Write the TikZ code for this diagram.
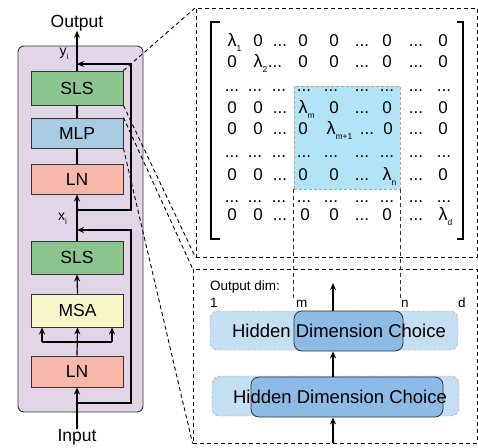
\documentclass[tikz,border=0pt]{standalone}
\usepackage{fontspec}
\setmainfont{Liberation Sans}
\usetikzlibrary{arrows.meta,calc}

\definecolor{panelfill}{HTML}{E1D5E7}
\definecolor{slsfill}{HTML}{8CC590}
\definecolor{mlpfill}{HTML}{A8CBE3}
\definecolor{lnfill}{HTML}{F7B8AB}
\definecolor{msafill}{HTML}{F6F6C9}
\definecolor{selfill}{HTML}{B2E4F8}
\definecolor{lightfill}{HTML}{C4DEF2}
\definecolor{darkfill}{HTML}{8CBCE6}
\definecolor{edge}{HTML}{333333}

% lambda with a lowered subscript that does not widen the entry
\newcommand\lam[1]{{\fontsize{18}{18}\selectfont λ}\rlap{\raisebox{-5pt}{\fontsize{8.5}{8.5}\selectfont #1}}}
\newcommand\D{...}

\begin{document}
\begin{tikzpicture}[x=1pt,y=-1pt,
  lbl/.style={font=\fontsize{17.5}{20}\selectfont, inner sep=0pt},
  blk/.style={draw=edge, line width=0.9pt, minimum width=92pt, inner sep=0pt,
              font=\fontsize{17.5}{20}\selectfont},
  wire/.style={line width=1.2pt},
  arr/.style={wire, -{Stealth[length=7pt,width=6pt]}},
  dbox/.style={draw, dash pattern=on 4pt off 3pt, line width=0.9pt, inner sep=0pt},
  link/.style={dash pattern=on 4pt off 3pt, line width=0.9pt},
  ent/.style={font=\fontsize{17}{18}\selectfont, inner sep=0pt, anchor=base},
  small/.style={font=\fontsize{13.5}{15}\selectfont, inner sep=0pt, anchor=base west},
  light/.style={fill=lightfill, draw=gray!80, dash pattern=on 3pt off 2pt,
                rounded corners=8pt, inner sep=0pt},
  dark/.style={fill=darkfill, draw=edge, line width=0.8pt, rounded corners=8pt, inner sep=0pt},
  hdctext/.style={font=\fontsize{18.5}{20}\selectfont, inner sep=0pt},
]
\useasboundingbox (0,0) rectangle (478,447);

% ---------- transformer block ----------
\node[draw=edge, fill=panelfill, rounded corners=6pt, line width=0.9pt,
      minimum width=125pt, minimum height=366pt, inner sep=0pt] (panel) at (80.5,229) {};

\node[blk, fill=slsfill, minimum height=34pt] (sls2) at (77,88) {SLS};
\node[blk, fill=mlpfill, minimum height=30pt] (mlp) at (77,133) {MLP};
\node[blk, fill=lnfill, minimum height=30pt] (ln2) at (77,179) {LN};
\node[blk, fill=slsfill, minimum height=33pt] (sls1) at (77,257.5) {SLS};
\node[blk, fill=msafill, minimum height=33pt] (msa) at (77.5,310.5) {MSA};
\node[blk, fill=lnfill, minimum height=31pt] (ln1) at (77,371.5) {LN};

\node[lbl, anchor=base] (out) at (77,27) {Output};
\node[lbl, anchor=base] (inp) at (77,441) {Input};
\node[anchor=base west, inner sep=0pt, font=\fontsize{14}{16}\selectfont] (yi) at (59.5,55)
  {y\rlap{\raisebox{-4pt}{\fontsize{8}{8}\selectfont i}}};
\node[anchor=base west, inner sep=0pt, font=\fontsize{14}{16}\selectfont] (xi) at (58,220)
  {x\rlap{\raisebox{-4pt}{\fontsize{8}{8}\selectfont i}}};

% main path
\draw[arr] (inp.north) -- (ln1.south);
\draw[arr] (ln1.north) -- (msa.south);
\coordinate (fl) at (42,342);
\coordinate (fr) at (112,342);
\draw[wire] (fl) -- (fr);
\draw[arr] (fl) -- (fl |- msa.south);
\draw[arr] (fr) -- (fr |- msa.south);
\draw[arr] (msa.north) -- (sls1.south);
\draw[arr] (sls1.north) -- (ln2.south);
\draw[wire] (ln2.north) -- (mlp.south);
\draw[wire] (mlp.north) -- (sls2.south);
\draw[arr] (sls2.north) -- (out.south);

% residual connections
\coordinate (ra) at (77,403);
\coordinate (rb) at (131,230);
\coordinate (rc) at (77,230);
\draw[arr] (ra) -| (rb) -- (rc);
\coordinate (sa) at (77,210);
\coordinate (sb) at (131,64);
\coordinate (sc) at (77,64);
\draw[arr] (sa) -| (sb) -- (sc);

% ---------- detail panels ----------
\node[dbox, minimum width=281pt, minimum height=249pt] (mat) at (336.5,132.5) {};
\node[dbox, minimum width=284pt, minimum height=174pt] (hdc) at (335,356) {};

\draw[link] (sls2.north east) -- (mat.north west);
\draw[link] (sls2.south east) -- (mat.south west);
\draw[link] (mlp.north east) -- (hdc.north west);
\draw[link] (mlp.south east) -- (hdc.south west);

% selected block of the diagonal matrix
\node[fill=selfill, draw=gray!70, dash pattern=on 3pt off 2pt, line width=0.8pt,
      minimum width=106pt, minimum height=103pt, inner sep=0pt] (sel) at (347,137.5) {};

% brackets
\draw[line width=2.8pt] (220,22) -- (211,22) -- (211,239) -- (220,239);
\draw[line width=2.8pt] (457,22) -- (463,22) -- (463,239) -- (457,239);

% matrix entries
\foreach \cx/\t [count=\c] in {232/\lam{1},258/0,280/\D,303/0,334/0,362/\D,387/0,416/\D,443/0}
  \node[ent] (ea-\c) at (\cx,46) {\t};
\foreach \cx/\t [count=\c] in {232/0,258/\lam{2},275/\D,303/0,334/0,362/\D,387/0,416/\D,443/0}
  \node[ent] (eb-\c) at (\cx,67) {\t};
\foreach \cx [count=\c] in {232,255,279,304,331,362,387,416,444}
  \node[ent] (ec-\c) at (\cx,91) {\D};
\foreach \cx/\t [count=\c] in {232/0,258/0,280/\D,303/\lam{m},334/0,362/\D,387/0,416/\D,443/0}
  \node[ent] (ed-\c) at (\cx,113) {\t};
\foreach \cx/\t [count=\c] in {232/0,258/0,280/\D,303/0,331/\lam{m+1},367/\D,388/0,416/\D,443/0}
  \node[ent] (ee-\c) at (\cx,134) {\t};
\foreach \cx [count=\c] in {232,255,279,304,331,362,387,416,444}
  \node[ent] (ef-\c) at (\cx,157) {\D};
\foreach \cx/\t [count=\c] in {232/0,258/0,280/\D,303/0,334/0,362/\D,387/\lam{n},416/\D,443/0}
  \node[ent] (eg-\c) at (\cx,180) {\t};
\foreach \cx [count=\c] in {232,255,279,304,331,362,387,416,444}
  \node[ent] (eh-\c) at (\cx,202) {\D};
\foreach \cx/\t [count=\c] in {232/0,258/0,280/\D,305/0,334/0,362/\D,387/0,416/\D,443/\lam{d}}
  \node[ent] (ei-\c) at (\cx,220) {\t};

% output-dimension labels
\node[small] (odim) at (210,290) {Output dim:};
\node[small] (d1) at (210,307) {1};
\node[small] (dm) at (296,307) {m};
\node[small] (dn) at (401,307) {n};
\node[small] (dd) at (458,307) {d};

\draw[link, draw=edge] (sel.south west) -- (sel.south west |- dm.north);
\draw[link, draw=edge] (sel.south east) -- (sel.south east |- dn.north);

% hidden dimension choices
\node[light, minimum width=248pt, minimum height=39pt] (l1) at (334,330.5) {};
\node[dark, minimum width=109pt, minimum height=40pt] (k1) at (348.5,331) {};
\node[hdctext] (t1) at (339,331) {Hidden Dimension Choice};
\node[light, minimum width=247pt, minimum height=40pt] (l2) at (335.5,396) {};
\node[dark, minimum width=192pt, minimum height=40pt] (k2) at (347,397) {};
\node[hdctext] (t2) at (340,397) {Hidden Dimension Choice};

\coordinate (ax) at (333,0);
\coordinate (atop) at (333,283);
\draw[arr] (ax |- hdc.south) -- (ax |- k2.south);
\draw[arr] (ax |- k2.north) -- (ax |- k1.south);
\draw[arr] (ax |- k1.north) -- (atop);
\end{tikzpicture}
\end{document}
